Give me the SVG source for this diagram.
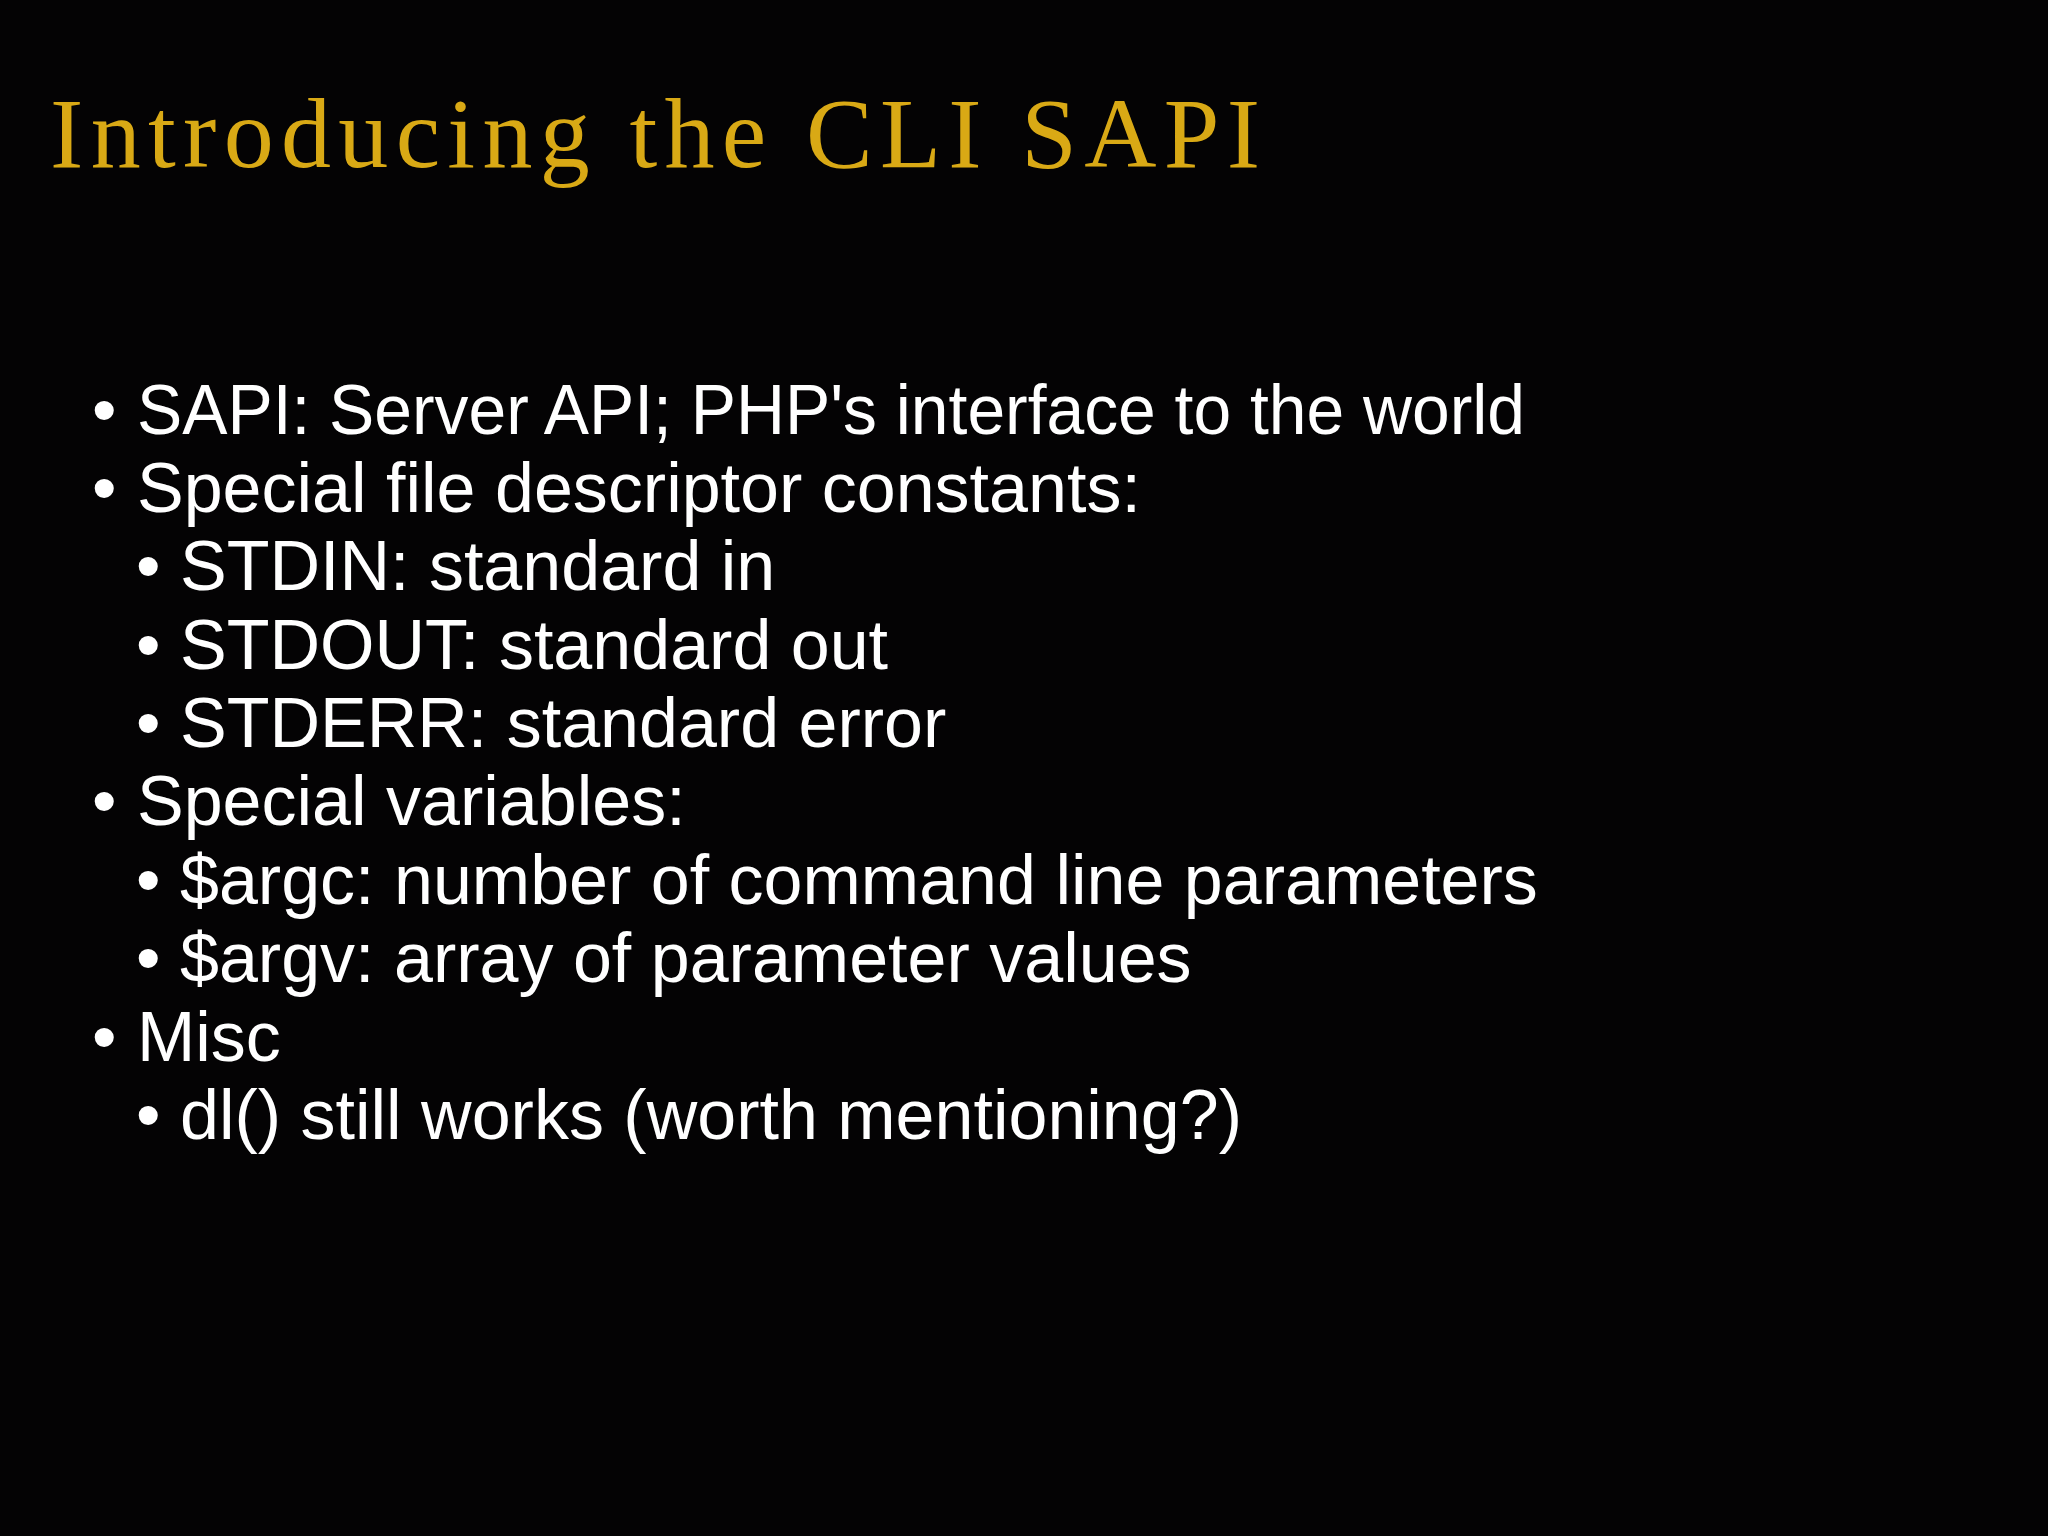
<svg xmlns="http://www.w3.org/2000/svg" width="2048" height="1536" viewBox="0 0 2048 1536">
<style>
.t{font-family:"Liberation Serif",serif;fill:#d9a915;font-size:100px}
.b{font-family:"Liberation Sans",Arial,sans-serif;fill:#ffffff;font-size:70px}
</style>
<rect width="2048" height="1536" fill="#040304"/>
<g id="title"><text class="t" x="50" y="167" textLength="1210" lengthAdjust="spacing">Introducing the CLI SAPI</text></g>
<g id="body">
<text class="b" x="92" y="434">•</text><text class="b" x="137" y="434" textLength="1388" lengthAdjust="spacingAndGlyphs">SAPI: Server API; PHP's interface to the world</text>
<text class="b" x="92" y="512">•</text><text class="b" x="137" y="512">Special file descriptor constants:</text>
<text class="b" x="136" y="590">•</text><text class="b" x="180" y="590">STDIN: standard in</text>
<text class="b" x="136" y="669">•</text><text class="b" x="180" y="669">STDOUT: standard out</text>
<text class="b" x="136" y="747">•</text><text class="b" x="180" y="747">STDERR: standard error</text>
<text class="b" x="92" y="825">•</text><text class="b" x="137" y="825">Special variables:</text>
<text class="b" x="136" y="904">•</text><text class="b" x="180" y="904">$argc: number of command line parameters</text>
<text class="b" x="136" y="982">•</text><text class="b" x="180" y="982">$argv: array of parameter values</text>
<text class="b" x="92" y="1061">•</text><text class="b" x="137" y="1061">Misc</text>
<text class="b" x="136" y="1139">•</text><text class="b" x="180" y="1139">dl() still works (worth mentioning?)</text>
</g>
</svg>
